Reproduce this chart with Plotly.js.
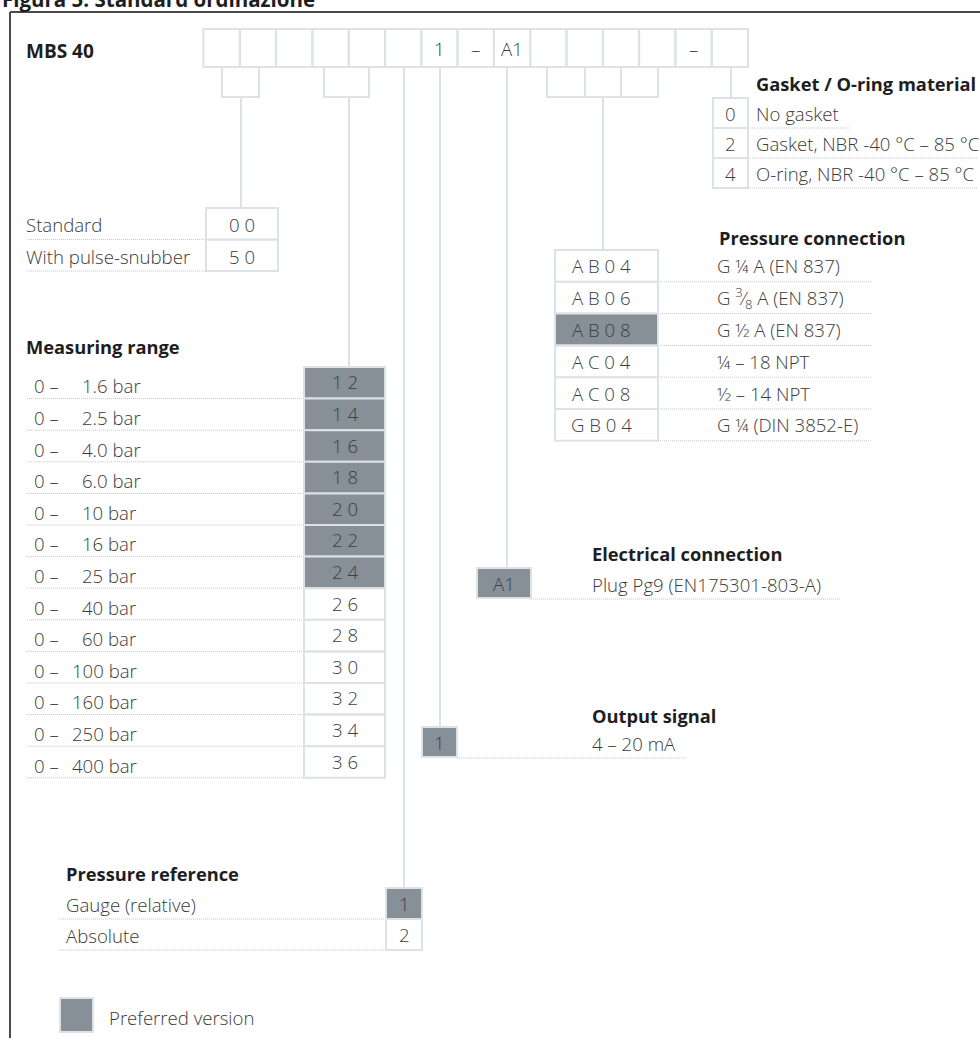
<!DOCTYPE html>
<html>
<head>
<meta charset="utf-8">
<script src="https://cdn.plot.ly/plotly-3.0.1.min.js"></script>
<style>html,body{margin:0;padding:0;background:#fff}#chart{width:980px;height:1038px}</style>
</head>
<body>
<div id="chart"></div>
<script>
// ---------- data ----------
const chartTitle = 'Figura 5: Standard ordinazione';
const productName = 'MBS 40';
const codeBoxCount = 15;
const codeBoxFixed = {6: '1', 7: '–', 8: 'A1', 13: '–'};

const designLabels = ['Standard', 'With pulse-snubber'];
const designCodes = ['00', '50'];

const rangeMin = ['0', '0', '0', '0', '0', '0', '0', '0', '0', '0', '0', '0', '0'];
const rangeMax = ['1.6', '2.5', '4.0', '6.0', '10', '16', '25', '40', '60', '100', '160', '250', '400'];
const rangeUnit = 'bar';
const rangeCodes = ['12', '14', '16', '18', '20', '22', '24', '26', '28', '30', '32', '34', '36'];
const rangePreferred = [true, true, true, true, true, true, true, false, false, false, false, false, false];

const refLabels = ['Gauge (relative)', 'Absolute'];
const refCodes = ['1', '2'];
const refPreferred = [true, false];

const outputLabels = ['4 – 20 mA'];
const outputCodes = ['1'];
const outputPreferred = [true];

const elecLabels = ['Plug Pg9 (EN175301-803-A)'];
const elecCodes = ['A1'];
const elecPreferred = [true];

const connCodes = ['AB04', 'AB06', 'AB08', 'AC04', 'AC08', 'GB04'];
const connLabels = ['G ¼ A (EN 837)', 'G <sup>3</sup>⁄<sub>8</sub> A (EN 837)', 'G ½ A (EN 837)', '¼ – 18 NPT', '½ – 14 NPT', 'G ¼ (DIN 3852-E)'];
const connPreferred = [false, false, true, false, false, false];

const gasketCodes = ['0', '2', '4'];
const gasketLabels = ['No gasket', 'Gasket, NBR -40 °C – 85 °C', 'O-ring, NBR -40 °C – 85 °C'];

const sectionTitles = {
  gasket: 'Gasket / O-ring material',
  conn: 'Pressure connection',
  range: 'Measuring range',
  elec: 'Electrical connection',
  output: 'Output signal',
  ref: 'Pressure reference'
};
const legendLabel = 'Preferred version';

// ---------- styles ----------
const FONT = 'Open Sans, Noto Sans, sans-serif';
const TXT = '#3a3a3a';
const CELL_TXT = '#3b4046';
const TITLE_C = '#1e1e1e';
const BORDER = '#dde2e7';
const PREF = '#878f97';
const DOT = '#c4c7ca';
const FS = 18.6;
const FS_T = 18.3;

const shapes = [];
const ann = [];

function rect(x0, y0, x1, y1, fill) {
  shapes.push({type: 'rect', xref: 'x', yref: 'y', x0, y0, x1, y1,
    line: {color: BORDER, width: 2}, fillcolor: fill || 'rgba(0,0,0,0)', layer: 'below'});
}
function line(x0, y0, x1, y1, opts) {
  shapes.push(Object.assign({type: 'line', xref: 'x', yref: 'y', x0, y0, x1, y1,
    line: {color: BORDER, width: 2}, layer: 'below'}, opts || {}));
}
function dotted(x0, x1, y) {
  line(x0, y, x1, y, {line: {color: DOT, width: 1, dash: '1px,1px'}});
}
function text(x, y, t, o) {
  o = o || {};
  ann.push({xref: 'x', yref: 'y', x, y, text: t, showarrow: false,
    xanchor: o.anchor || 'left', yanchor: 'middle',
    font: {family: FONT, size: o.size || FS, color: o.color || TXT, weight: o.weight || 300}});
}
function title(x, y, t) { text(x, y, t, {size: FS_T, color: TITLE_C, weight: 700}); }
function spaced(c) { return c.split('').join(' '); }

// frame
line(10, 12, 980, 12, {line: {color: '#4a4a4a', width: 2}, layer: 'above'});
line(10, 12, 10, 1038, {line: {color: '#4a4a4a', width: 2}, layer: 'above'});
ann.push({xref: 'x', yref: 'y', x: 0, y: 15, text: '<b>' + chartTitle + '</b>', showarrow: false,
  xanchor: 'left', yanchor: 'bottom', font: {family: FONT, size: 20.5, color: TITLE_C}});

// product and code boxes
text(24, 51, productName, {size: 19, color: TITLE_C, weight: 700});
const bx0 = 203.5, bw = 36.3, by0 = 29, by1 = 67;
for (let i = 0; i < codeBoxCount; i++) {
  rect(bx0 + i * bw, by0, bx0 + (i + 1) * bw, by1);
  if (codeBoxFixed[i] !== undefined) text(bx0 + (i + 0.5) * bw, 48, codeBoxFixed[i], {anchor: 'center'});
}
// sub boxes
rect(222, 67, 259, 97);
rect(324, 67, 369, 97);
rect(547, 67, 585, 97); rect(585, 67, 621, 97); rect(621, 67, 658, 97);

// connectors
line(241, 97, 241, 208);
line(349, 97, 349, 367);
line(404, 67, 404, 888);
line(440, 67, 440, 727);
line(507, 67, 507, 568);
line(603, 97, 603, 250);
line(731, 67, 731, 98);

// design (standard / pulse snubber)
designLabels.forEach((l, i) => {
  const y0 = 208 + i * 31.5, y1 = y0 + 31.5;
  rect(206, y0, 278, y1);
  text(242, (y0 + y1) / 2 + 1, spaced(designCodes[i]), {anchor: 'center'});
  text(24, (y0 + y1) / 2 + 1, l);
  dotted(27, 206, y1);
});

// measuring range
title(24, 346, sectionTitles.range);
rangeMax.forEach((v, i) => {
  const h = 31.6, y0 = 367 + i * h, y1 = y0 + h;
  rect(304, y0, 385, y1, rangePreferred[i] ? PREF : null);
  text(344.5, (y0 + y1) / 2 - 1, spaced(rangeCodes[i]), {anchor: 'center', color: CELL_TXT});
  text(32, (y0 + y1) / 2 + 3, rangeMin[i] + ' –');
  text(v.length >= 3 && v.indexOf('.') < 0 ? 70 : 80, (y0 + y1) / 2 + 3, v + ' ' + rangeUnit);
  dotted(27, 304, y1);
});

// pressure reference
title(64, 873, sectionTitles.ref);
refLabels.forEach((l, i) => {
  const y0 = 888 + i * 31, y1 = y0 + 31;
  rect(386, y0, 422, y1, refPreferred[i] ? PREF : null);
  text(404, (y0 + y1) / 2, refCodes[i], {anchor: 'center', color: CELL_TXT});
  text(64, (y0 + y1) / 2 + 1, l);
  dotted(59, 386, y1);
});

// output signal
title(590, 715, sectionTitles.output);
outputLabels.forEach((l, i) => {
  rect(422, 727, 457, 757, outputPreferred[i] ? PREF : null);
  text(439.5, 742, outputCodes[i], {anchor: 'center', color: CELL_TXT});
  text(590, 743, l);
  dotted(457, 687, 758);
});

// electrical connection
title(590, 553, sectionTitles.elec);
elecLabels.forEach((l, i) => {
  rect(477, 568, 531, 598, elecPreferred[i] ? PREF : null);
  text(504, 583, elecCodes[i], {anchor: 'center', color: CELL_TXT});
  text(590, 584, l);
  dotted(531, 840, 599);
});

// pressure connection
title(717, 237, sectionTitles.conn);
connCodes.forEach((c, i) => {
  const h = 31.8, y0 = 250 + i * h, y1 = y0 + h;
  rect(555, y0, 658, y1, connPreferred[i] ? PREF : null);
  text(601, (y0 + y1) / 2, spaced(c), {anchor: 'center', color: CELL_TXT});
  text(715, (y0 + y1) / 2, connLabels[i]);
  dotted(658, 872, y1);
});

// gasket
title(754, 83, sectionTitles.gasket);
const gEnds = [850, 978, 978];
gasketCodes.forEach((c, i) => {
  const y0 = 98 + i * 30, y1 = y0 + 30;
  rect(713, y0, 748, y1);
  text(730.5, (y0 + y1) / 2, c, {anchor: 'center', color: CELL_TXT});
  text(754, (y0 + y1) / 2, gasketLabels[i]);
  dotted(748, gEnds[i], y1);
});

// legend
rect(60, 998, 93, 1032, PREF);
text(107, 1017, legendLabel);

const layout = {
  width: 980, height: 1038,
  margin: {l: 0, r: 0, t: 0, b: 0},
  paper_bgcolor: '#fff', plot_bgcolor: '#fff',
  xaxis: {range: [0, 980], visible: false, fixedrange: true},
  yaxis: {range: [1038, 0], visible: false, fixedrange: true},
  showlegend: false,
  shapes: shapes,
  annotations: ann
};
Plotly.newPlot('chart', [], layout, {displayModeBar: false, staticPlot: true});
</script>
</body>
</html>
